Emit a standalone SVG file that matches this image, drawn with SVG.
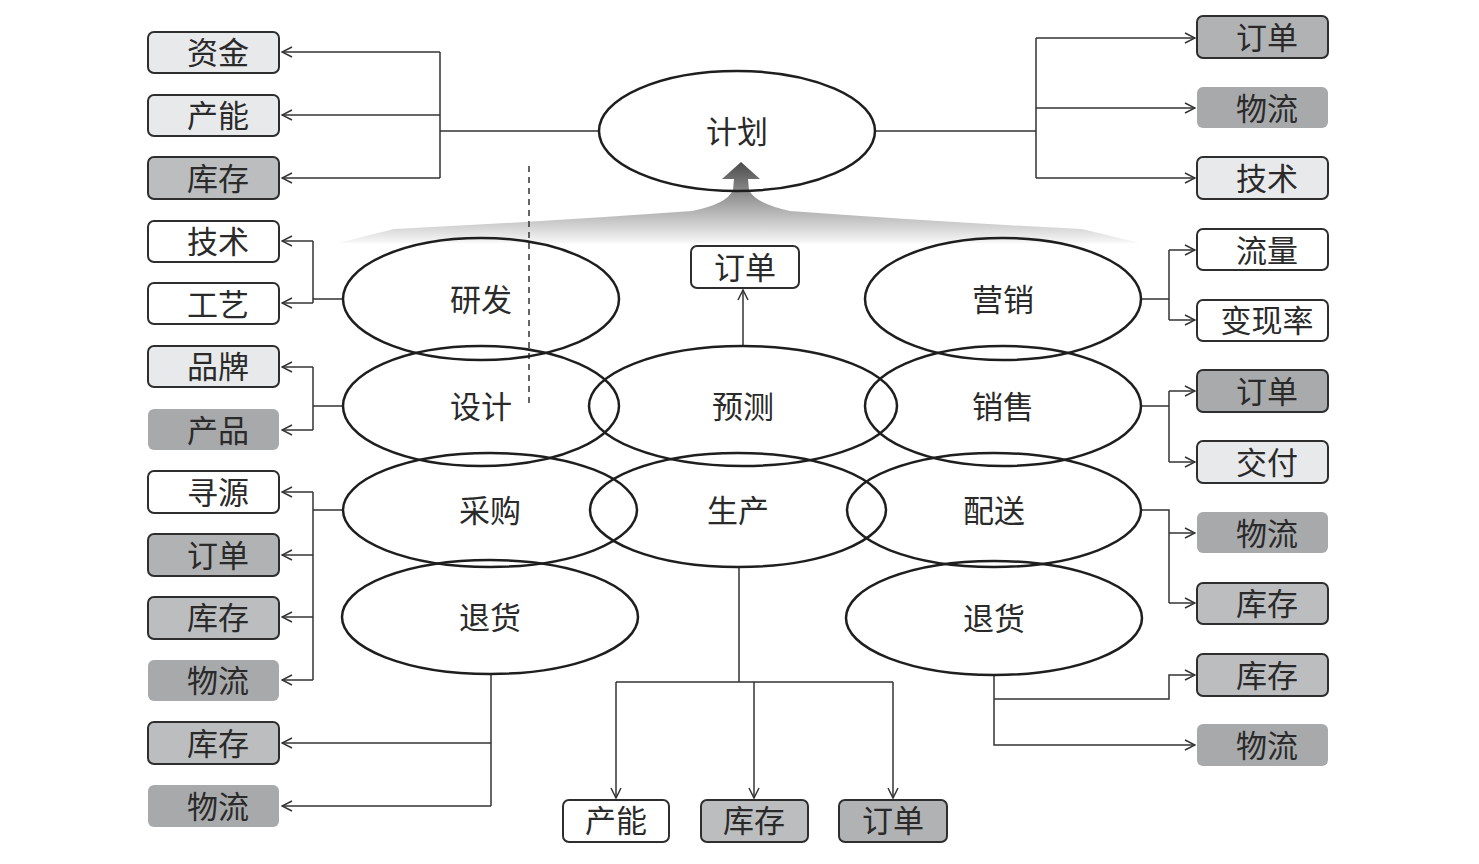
<svg xmlns="http://www.w3.org/2000/svg" width="1479" height="864" viewBox="0 0 1479 864">
<defs>
<style>
text{font-family:"Noto Sans CJK SC","Noto Sans",sans-serif;font-size:31px;fill:#2a2a2a;text-anchor:middle;dominant-baseline:central;transform:translateY(-2px)}
.el{fill:none;stroke:#1e1e1e;stroke-width:2.5}
.bx{stroke:#2e2e2e;stroke-width:2}
.w{fill:#ffffff}
.l{fill:#e8e9ea}
.m{fill:#bcbdbf}
.m2{fill:#b1b2b4}
.d{fill:#a8a9ab;stroke:none}
.c{fill:none;stroke:#333;stroke-width:1.5}
.a{fill:none;stroke:#333;stroke-width:1.5;marker-end:url(#arr)}
.dash{fill:none;stroke:#333;stroke-width:1.5;stroke-dasharray:6 5}
</style>
<marker id="arr" viewBox="0 0 12 12" refX="11" refY="6" markerWidth="12" markerHeight="12" markerUnits="userSpaceOnUse" orient="auto">
<path d="M1,1 L11,6 L1,11" fill="none" stroke="#333" stroke-width="1.5"/>
</marker>
<linearGradient id="fan" x1="0" y1="162" x2="0" y2="246" gradientUnits="userSpaceOnUse">
<stop offset="0" stop-color="#4a4a4a"/>
<stop offset="0.35" stop-color="#8a8a8a"/>
<stop offset="0.75" stop-color="#d0d0d0"/>
<stop offset="1" stop-color="#ffffff"/>
</linearGradient>
</defs>

<g id="fan-arrow">
<path d="M741,162 L760,179 L748,179 L749,190 Q756,204 790,211 Q940,222 1082,229 L1140,243 L338,243 L394,229 Q540,222 692,211 Q727,204 733,190 L734,179 L722,179 Z" fill="url(#fan)"/>
</g>

<g id="connectors">
<path class="c" d="M599,131 H440 M440,52 V178"/>
<path class="a" d="M440,52 H282"/>
<path class="a" d="M440,115 H282"/>
<path class="a" d="M440,178 H282"/>
<path class="c" d="M343,299 H313 M313,241 V303"/>
<path class="a" d="M313,241 H282"/>
<path class="a" d="M313,303 H282"/>
<path class="c" d="M343,406 H313 M313,367 V430"/>
<path class="a" d="M313,367 H282"/>
<path class="a" d="M313,430 H282"/>
<path class="c" d="M343,510 H313 M313,492 V680"/>
<path class="a" d="M313,492 H282"/>
<path class="a" d="M313,555 H282"/>
<path class="a" d="M313,617 H282"/>
<path class="a" d="M313,680 H282"/>
<path class="c" d="M491,674 V806"/>
<path class="a" d="M491,743 H282"/>
<path class="a" d="M491,806 H282"/>
<path class="c" d="M876,131 H1036 M1036,38 V178"/>
<path class="a" d="M1036,38 H1195"/>
<path class="a" d="M1036,108 H1195"/>
<path class="a" d="M1036,178 H1195"/>
<path class="c" d="M1141,299 H1169 M1169,250 V320"/>
<path class="a" d="M1169,250 H1195"/>
<path class="a" d="M1169,320 H1195"/>
<path class="c" d="M1141,406 H1169 M1169,391 V462"/>
<path class="a" d="M1169,391 H1195"/>
<path class="a" d="M1169,462 H1195"/>
<path class="c" d="M1141,510 H1169 V603"/>
<path class="a" d="M1169,533 H1195"/>
<path class="a" d="M1169,603 H1195"/>
<path class="a" d="M994,675 V745 H1195"/>
<path class="a" d="M994,699 H1169 V675 H1195"/>
<path class="c" d="M739,567 V682 M616,682 H893"/>
<path class="a" d="M616,682 V798"/>
<path class="a" d="M754,682 V798"/>
<path class="a" d="M893,682 V798"/>
<path class="a" d="M743,346 V290"/>
<path class="dash" d="M529,166 V406"/>
</g>

<g id="n-jihua"><ellipse class="el" cx="737" cy="131" rx="138" ry="60"/><text x="737" y="131">计划</text></g>
<g id="n-yanfa"><ellipse class="el" cx="481" cy="299" rx="138" ry="61"/><text x="481" y="299">研发</text></g>
<g id="n-sheji"><ellipse class="el" cx="481" cy="406" rx="138" ry="60"/><text x="481" y="406">设计</text></g>
<g id="n-yuce"><ellipse class="el" cx="743" cy="406" rx="154" ry="60"/><text x="743" y="406">预测</text></g>
<g id="n-yingxiao"><ellipse class="el" cx="1003" cy="299" rx="138" ry="61"/><text x="1003" y="299">营销</text></g>
<g id="n-xiaoshou"><ellipse class="el" cx="1003" cy="406" rx="138" ry="60"/><text x="1003" y="406">销售</text></g>
<g id="n-caigou"><ellipse class="el" cx="490" cy="510" rx="147" ry="57"/><text x="490" y="510">采购</text></g>
<g id="n-shengchan"><ellipse class="el" cx="738" cy="510" rx="148" ry="57"/><text x="738" y="510">生产</text></g>
<g id="n-peisong"><ellipse class="el" cx="994" cy="510" rx="147" ry="57"/><text x="994" y="510">配送</text></g>
<g id="n-tuihuo-l"><ellipse class="el" cx="490" cy="617" rx="148" ry="57"/><text x="490" y="617">退货</text></g>
<g id="n-tuihuo-r"><ellipse class="el" cx="994" cy="618" rx="148" ry="57"/><text x="994" y="618">退货</text></g>

<g id="b-zijin"><rect class="bx l" x="148" y="32" width="131" height="41" rx="6"/><text x="218" y="52">资金</text></g>
<g id="b-channeng-l"><rect class="bx l" x="148" y="95" width="131" height="41" rx="6"/><text x="218" y="115">产能</text></g>
<g id="b-kucun-l1"><rect class="bx m" x="148" y="157" width="131" height="42" rx="6"/><text x="218" y="178">库存</text></g>
<g id="b-jishu-l"><rect class="bx w" x="148" y="221" width="131" height="41" rx="6"/><text x="218" y="241">技术</text></g>
<g id="b-gongyi"><rect class="bx w" x="148" y="283" width="131" height="41" rx="6"/><text x="218" y="304">工艺</text></g>
<g id="b-pinpai"><rect class="bx l" x="148" y="346" width="131" height="41" rx="6"/><text x="218" y="366">品牌</text></g>
<g id="b-chanpin"><rect class="d" x="148" y="409" width="131" height="41" rx="6"/><text x="218" y="430">产品</text></g>
<g id="b-xunyuan"><rect class="bx w" x="148" y="471" width="131" height="42" rx="6"/><text x="218" y="492">寻源</text></g>
<g id="b-dingdan-l"><rect class="bx m2" x="148" y="534" width="131" height="42" rx="6"/><text x="218" y="555">订单</text></g>
<g id="b-kucun-l2"><rect class="bx m" x="148" y="597" width="131" height="42" rx="6"/><text x="218" y="617">库存</text></g>
<g id="b-wuliu-l1"><rect class="d" x="148" y="660" width="131" height="41" rx="6"/><text x="218" y="680">物流</text></g>
<g id="b-kucun-l3"><rect class="bx m" x="148" y="722" width="131" height="42" rx="6"/><text x="218" y="743">库存</text></g>
<g id="b-wuliu-l2"><rect class="d" x="148" y="785" width="131" height="42" rx="6"/><text x="218" y="806">物流</text></g>

<g id="b-dingdan-r1"><rect class="bx m2" x="1197" y="16" width="131" height="42" rx="6"/><text x="1267" y="37">订单</text></g>
<g id="b-wuliu-r1"><rect class="d" x="1197" y="87" width="131" height="41" rx="6"/><text x="1267" y="108">物流</text></g>
<g id="b-jishu-r"><rect class="bx l" x="1197" y="157" width="131" height="42" rx="6"/><text x="1267" y="178">技术</text></g>
<g id="b-liuliang"><rect class="bx w" x="1197" y="229" width="131" height="41" rx="6"/><text x="1267" y="250">流量</text></g>
<g id="b-bianxianlv"><rect class="bx w" x="1197" y="300" width="131" height="41" rx="6"/><text x="1267" y="320">变现率</text></g>
<g id="b-dingdan-r2"><rect class="bx" fill="#a9aaac" x="1197" y="370" width="131" height="42" rx="6"/><text x="1267" y="391">订单</text></g>
<g id="b-jiaofu"><rect class="bx l" x="1197" y="441" width="131" height="42" rx="6"/><text x="1267" y="462">交付</text></g>
<g id="b-wuliu-r2"><rect class="d" x="1197" y="512" width="131" height="41" rx="6"/><text x="1267" y="533">物流</text></g>
<g id="b-kucun-r1"><rect class="bx m" x="1197" y="583" width="131" height="41" rx="6"/><text x="1267" y="603">库存</text></g>
<g id="b-kucun-r2"><rect class="bx m" x="1197" y="654" width="131" height="42" rx="6"/><text x="1267" y="675">库存</text></g>
<g id="b-wuliu-r3"><rect class="d" x="1197" y="724" width="131" height="42" rx="6"/><text x="1267" y="745">物流</text></g>

<g id="b-channeng-b"><rect class="bx w" x="563" y="800" width="106" height="42" rx="6"/><text x="616" y="820">产能</text></g>
<g id="b-kucun-b"><rect class="bx m" x="701" y="800" width="107" height="42" rx="6"/><text x="754" y="820">库存</text></g>
<g id="b-dingdan-b"><rect class="bx m2" x="839" y="800" width="108" height="42" rx="6"/><text x="893" y="820">订单</text></g>
<g id="b-dingdan-c"><rect class="bx w" x="691" y="246" width="108" height="42" rx="6"/><text x="745" y="267">订单</text></g>
</svg>
